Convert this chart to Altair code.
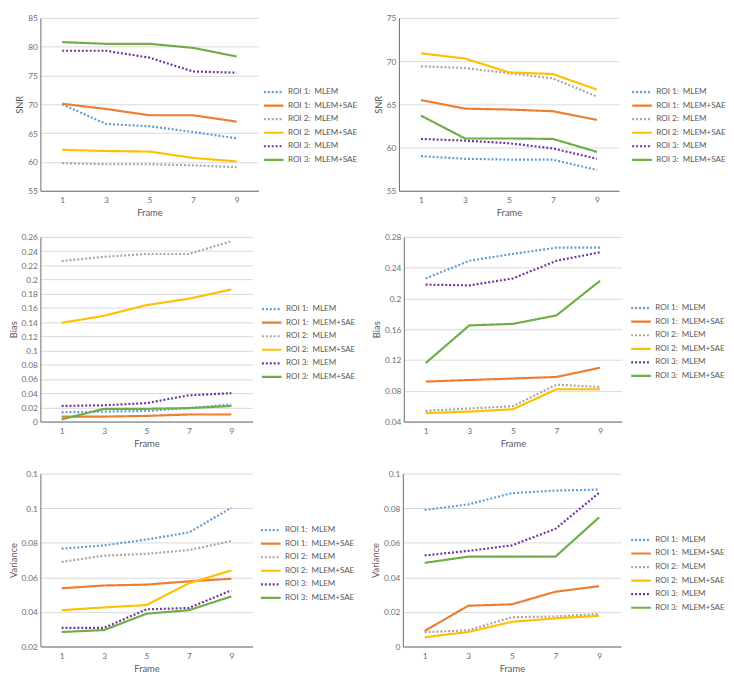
import altair as alt
import pandas as pd

frames = [1, 3, 5, 7, 9]
series = ["ROI 1:\u00a0\u00a0MLEM", "ROI 1:\u00a0\u00a0MLEM+SAE",
          "ROI 2:\u00a0\u00a0MLEM", "ROI 2:\u00a0\u00a0MLEM+SAE",
          "ROI 3:\u00a0\u00a0MLEM", "ROI 3:\u00a0\u00a0MLEM+SAE"]
colors = ["#5B9BD5", "#ED7D31", "#A5A5A5", "#FFC000", "#7030A0", "#70AD47"]
dashes = [[2, 2], [1, 0], [2, 2], [1, 0], [2, 2], [1, 0]]

snr_left = [
    [70.0, 66.6, 66.2, 65.2, 64.1],
    [70.1, 69.2, 68.1, 68.1, 67.0],
    [59.8, 59.6, 59.6, 59.4, 59.1],
    [62.1, 61.9, 61.8, 60.7, 60.1],
    [79.3, 79.3, 78.1, 75.7, 75.5],
    [80.8, 80.5, 80.5, 79.8, 78.3],
]
snr_right = [
    [59.0, 58.7, 58.6, 58.6, 57.4],
    [65.5, 64.5, 64.4, 64.2, 63.2],
    [69.4, 69.2, 68.6, 68.0, 65.9],
    [70.9, 70.3, 68.7, 68.5, 66.7],
    [61.0, 60.8, 60.5, 59.9, 58.7],
    [63.7, 61.05, 61.05, 61.0, 59.5],
]
bias_left = [
    [0.013, 0.014, 0.015, 0.019, 0.024],
    [0.007, 0.007, 0.008, 0.010, 0.010],
    [0.226, 0.232, 0.236, 0.236, 0.254],
    [0.139, 0.149, 0.164, 0.173, 0.186],
    [0.022, 0.023, 0.026, 0.037, 0.040],
    [0.003, 0.018, 0.018, 0.019, 0.022],
]
bias_right = [
    [0.226, 0.249, 0.258, 0.266, 0.266],
    [0.092, 0.094, 0.096, 0.098, 0.110],
    [0.054, 0.057, 0.060, 0.088, 0.085],
    [0.051, 0.053, 0.056, 0.082, 0.082],
    [0.218, 0.217, 0.226, 0.249, 0.260],
    [0.116, 0.165, 0.167, 0.178, 0.223],
]
var_left = [
    [0.0766, 0.0785, 0.0819, 0.0860, 0.1002],
    [0.0537, 0.0553, 0.0558, 0.0577, 0.0592],
    [0.0689, 0.0726, 0.0736, 0.0758, 0.0810],
    [0.0410, 0.0426, 0.0440, 0.0566, 0.0640],
    [0.0308, 0.0308, 0.0415, 0.0423, 0.0525],
    [0.0284, 0.0295, 0.0390, 0.0410, 0.0490],
]
var_right = [
    [0.0790, 0.0822, 0.0887, 0.0902, 0.0908],
    [0.0090, 0.0236, 0.0244, 0.0317, 0.0349],
    [0.0083, 0.0094, 0.0169, 0.0174, 0.0188],
    [0.0054, 0.0084, 0.0143, 0.0163, 0.0178],
    [0.0527, 0.0553, 0.0585, 0.0681, 0.0889],
    [0.0484, 0.0520, 0.0520, 0.0520, 0.0747],
]

FONT = "Lato"
TXT = "#595959"


def panel(values, ytitle, ydomain, yticks, w, h, lx, ly):
    rows = []
    for s, vals in zip(series, values):
        for f, v in zip(frames, vals):
            rows.append({"frame": f, "value": v, "series": s})
    df = pd.DataFrame(rows)
    leg = alt.Legend(orient="none", legendX=lx, legendY=ly, title=None,
                     symbolType="stroke", symbolSize=400, symbolStrokeWidth=2.2,
                     clipHeight=11,
                     labelFont=FONT, labelFontSize=8.2, labelColor=TXT,
                     labelOffset=3, rowPadding=2.8, padding=0)
    return alt.Chart(df).mark_line(strokeWidth=2.2).encode(
        x=alt.X("frame:Q", scale=alt.Scale(domain=[0, 10], nice=False),
                axis=alt.Axis(values=frames, grid=False, title="Frame",
                              ticks=False, labelPadding=5, titlePadding=4)),
        y=alt.Y("value:Q", scale=alt.Scale(domain=ydomain, nice=False, zero=False),
                axis=alt.Axis(values=yticks, title=ytitle, format="~g",
                              ticks=False, labelPadding=3, titlePadding=3)),
        color=alt.Color("series:N", scale=alt.Scale(domain=series, range=colors), legend=leg),
        strokeDash=alt.StrokeDash("series:N", scale=alt.Scale(domain=series, range=dashes), legend=leg),
    ).properties(width=w, height=h)


p1 = panel(snr_left, "SNR", [55, 85], [55, 60, 65, 70, 75, 80, 85], 222, 176, 226, 70)
p2 = panel(snr_right, "SNR", [55, 75], [55, 60, 65, 70, 75], 224, 176, 236, 70)
p3 = panel(bias_left, "Bias", [0, 0.26],
           [0, 0.02, 0.04, 0.06, 0.08, 0.1, 0.12, 0.14, 0.16, 0.18, 0.2, 0.22, 0.24, 0.26],
           216, 188, 224, 68)
p4 = panel(bias_right, "Bias", [0.04, 0.28], [0.04, 0.08, 0.12, 0.16, 0.2, 0.24, 0.28],
           222, 188, 230, 67)
p5 = panel(var_left, "Variance", [0.02, 0.12], [0.02, 0.04, 0.06, 0.08, 0.1, 0.12],
           216, 176, 223, 52)
p6 = panel(var_right, "Variance", [0, 0.1], [0, 0.02, 0.04, 0.06, 0.08, 0.1],
           222, 176, 231, 62)

IND = dict(x="independent", y="independent", color="independent", strokeDash="independent")


def row(a, b):
    return alt.hconcat(a, b, spacing=16).resolve_scale(**IND).resolve_legend(
        color="independent", strokeDash="independent")


top = alt.vconcat(row(p1, p2), row(p3, p4), spacing=16).resolve_scale(**IND).resolve_legend(
    color="independent", strokeDash="independent")

chart = alt.vconcat(top, row(p5, p6), spacing=22).resolve_scale(**IND).resolve_legend(
    color="independent", strokeDash="independent"
).properties(
    padding=0, background="white"
).configure_view(stroke=None).configure_axis(
    labelFont=FONT, titleFont=FONT, labelFontSize=8.5, titleFontSize=9.5,
    labelColor="#6E6E6E", titleColor=TXT, titleFontWeight="normal",
    domainColor="#6B6B6B", gridColor="#D9D9D9", gridWidth=1
)

chart.save("out.html", embed_options={"renderer": "svg", "actions": False})
